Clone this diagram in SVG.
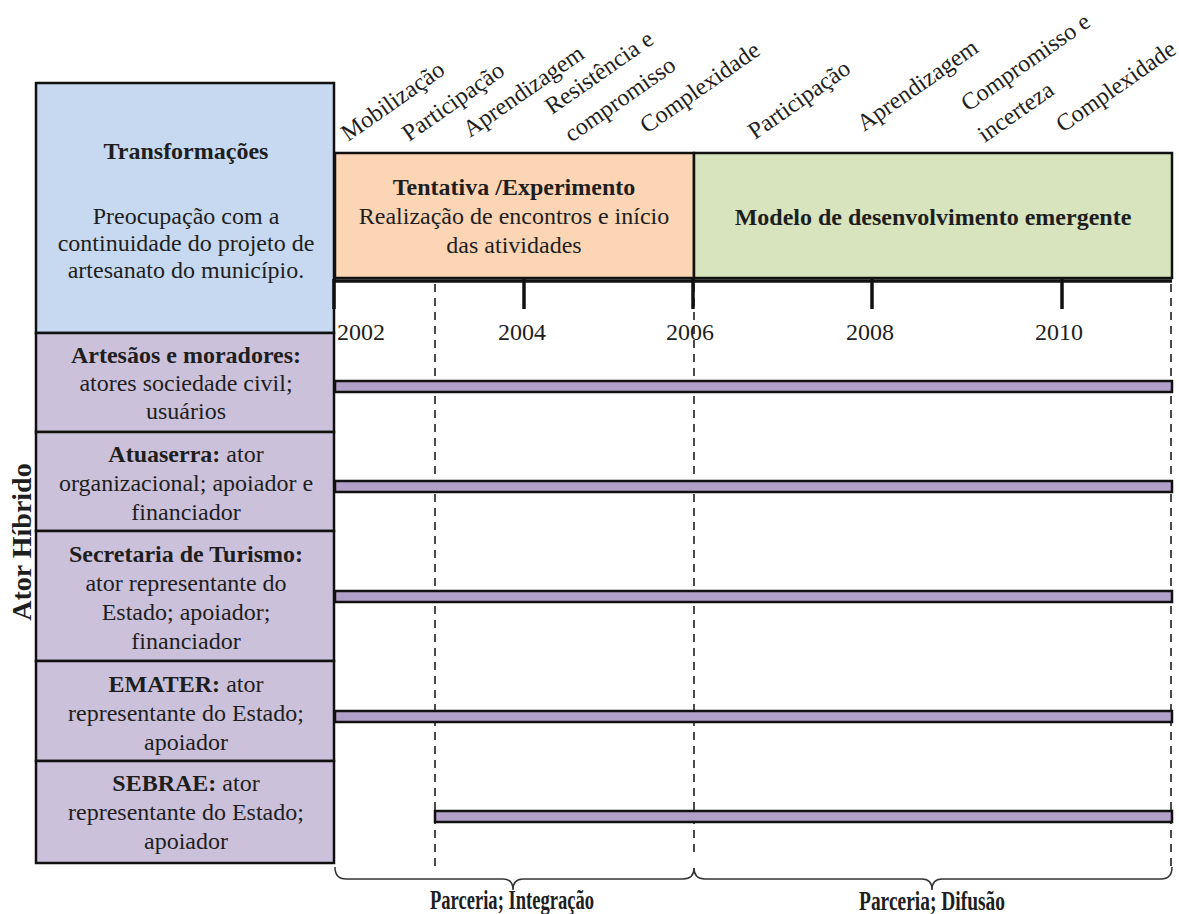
<svg xmlns="http://www.w3.org/2000/svg" width="1179" height="914" viewBox="0 0 1179 914">
<style>
.t{font-family:"Liberation Serif","Times New Roman",serif;font-size:24px;fill:#1e1e1e}
.b{font-weight:bold}
.c{text-anchor:middle}
.box{stroke:#111;stroke-width:2.5}
.blue{fill:#c6d9f1}
.pur{fill:#ccc1da}
.org{fill:#fcd5b5}
.grn{fill:#d7e4bd}
.bar{fill:#b1a0c7;stroke:#111;stroke-width:2.5}
.axis{stroke:#111;stroke-width:3.5;fill:none}
.dash{stroke:#111;stroke-width:1.5;stroke-dasharray:8 6;fill:none}
.brace{stroke:#333;stroke-width:1.5;fill:none}
.sum{font-size:27px}
</style>
<rect width="1179" height="914" fill="#fff"/>

<g id="phase-labels" class="t">
<text transform="translate(348,142) rotate(-35)">Mobilização</text>
<text transform="translate(409,142) rotate(-35)">Participação</text>
<text transform="translate(470,138) rotate(-35)">Aprendizagem</text>
<text transform="translate(552,115) rotate(-35)"><tspan x="0" y="0">Resistência e</tspan><tspan x="0" y="34">compromisso</tspan></text>
<text transform="translate(647,134) rotate(-35)">Complexidade</text>
<text transform="translate(755,140) rotate(-35)">Participação</text>
<text transform="translate(864,132) rotate(-35)">Aprendizagem</text>
<text transform="translate(968,112) rotate(-35)"><tspan x="0" y="0">Compromisso e</tspan><tspan x="-4" y="35">incerteza</tspan></text>
<text transform="translate(1063,133) rotate(-35)">Complexidade</text>
</g>

<g id="node-transformacoes">
<rect class="box blue" x="36" y="83" width="298" height="250"/>
<text class="t b c" x="186" y="159">Transformações</text>
<text class="t c" x="186" y="224">Preocupação com a</text>
<text class="t c" x="186" y="251">continuidade do projeto de</text>
<text class="t c" x="186" y="278">artesanato do município.</text>
</g>

<g id="node-tentativa">
<rect class="box org" x="335" y="153" width="359" height="125"/>
<text class="t b c" x="514" y="195">Tentativa /Experimento</text>
<text class="t c" x="514" y="224">Realização de encontros e início</text>
<text class="t c" x="514" y="253">das atividades</text>
</g>

<g id="node-modelo">
<rect class="box grn" x="694" y="153" width="478" height="125"/>
<text class="t b c" x="933" y="225">Modelo de desenvolvimento emergente</text>
</g>

<g id="node-artesaos">
<rect class="box pur" x="36" y="333" width="298" height="99"/>
<text class="t b c" x="186" y="363">Artesãos e moradores:</text>
<text class="t c" x="186" y="391">atores sociedade civil;</text>
<text class="t c" x="186" y="419">usuários</text>
</g>

<g id="node-atuaserra">
<rect class="box pur" x="36" y="432" width="298" height="99"/>
<text class="t c" x="186" y="462"><tspan class="b">Atuaserra:</tspan>  ator</text>
<text class="t c" x="186" y="491">organizacional; apoiador e</text>
<text class="t c" x="186" y="520">financiador</text>
</g>

<g id="node-secretaria">
<rect class="box pur" x="36" y="531" width="298" height="130"/>
<text class="t b c" x="186" y="562">Secretaria de Turismo:</text>
<text class="t c" x="186" y="591">ator representante do</text>
<text class="t c" x="186" y="620">Estado; apoiador;</text>
<text class="t c" x="186" y="649">financiador</text>
</g>

<g id="node-emater">
<rect class="box pur" x="36" y="661" width="298" height="100"/>
<text class="t c" x="186" y="692"><tspan class="b">EMATER:</tspan> ator</text>
<text class="t c" x="186" y="721">representante do Estado;</text>
<text class="t c" x="186" y="750">apoiador</text>
</g>

<g id="node-sebrae">
<rect class="box pur" x="36" y="761" width="298" height="102"/>
<text class="t c" x="186" y="791"><tspan class="b">SEBRAE:</tspan> ator</text>
<text class="t c" x="186" y="820">representante do Estado;</text>
<text class="t c" x="186" y="849">apoiador</text>
</g>

<g id="node-ator-hibrido">
<text class="t b c" style="font-size:28px" transform="translate(31,542) rotate(-90)">Ator Híbrido</text>
</g>

<g id="timeline">
<line class="axis" x1="334" y1="281" x2="1172" y2="281"/>
<line class="axis" x1="334" y1="279" x2="334" y2="309"/>
<line class="axis" x1="524" y1="279" x2="524" y2="309"/>
<line class="axis" x1="693" y1="279" x2="693" y2="309"/>
<line class="axis" x1="872" y1="279" x2="872" y2="309"/>
<line class="axis" x1="1062" y1="279" x2="1062" y2="309"/>
<text class="t" x="337" y="340">2002</text>
<text class="t c" x="522" y="340">2004</text>
<text class="t c" x="690" y="340">2006</text>
<text class="t c" x="870" y="340">2008</text>
<text class="t c" x="1059" y="340">2010</text>
</g>

<g id="connectors">
<line class="dash" x1="435" y1="284" x2="435" y2="868"/>
<line class="dash" x1="694" y1="284" x2="694" y2="852"/>
<line class="dash" x1="1171" y1="284" x2="1171" y2="866"/>
<path class="brace" d="M335,867 Q335,879 346,879 L503,879 Q513,879 513,890 Q513,879 523,879 L683,879 Q694,879 694,868"/>
<path class="brace" d="M694,868 Q694,879 705,879 L922,879 Q932,879 932,890 Q932,879 942,879 L1161,879 Q1172,879 1172,867"/>
</g>

<g id="bars">
<rect class="bar" x="335" y="381" width="837" height="11"/>
<rect class="bar" x="335" y="481" width="837" height="11"/>
<rect class="bar" x="335" y="591" width="837" height="11"/>
<rect class="bar" x="335" y="711" width="837" height="11"/>
<rect class="bar" x="435" y="811" width="737" height="11"/>
</g>

<g id="phase-summary">
<text class="t b c sum" x="512" y="909" textLength="164" lengthAdjust="spacingAndGlyphs">Parceria; Integração</text>
<text class="t b c sum" x="932" y="910" textLength="146" lengthAdjust="spacingAndGlyphs">Parceria; Difusão</text>
</g>
</svg>
